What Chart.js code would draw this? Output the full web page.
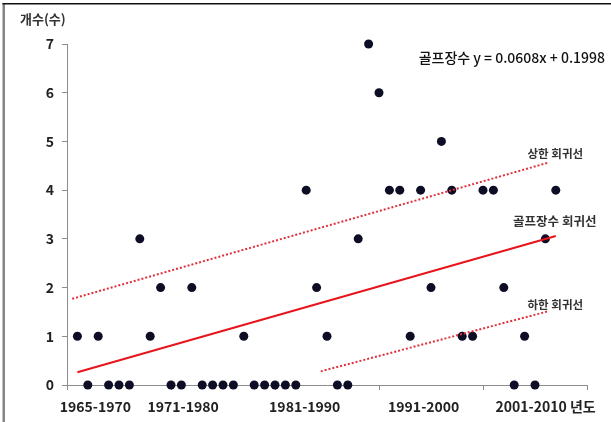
<!DOCTYPE html>
<html>
<head>
<meta charset="utf-8">
<script src="https://cdn.jsdelivr.net/npm/chart.js@4.4.1/dist/chart.umd.min.js"></script>
<style>
  html, body { margin: 0; padding: 0; background: #fff; }
  #wrap { position: relative; width: 611px; height: 422px; }
</style>
</head>
<body>
<div id="wrap"><canvas id="c" width="611" height="422"></canvas></div>
<script>
// Number of golf courses opened per year (sequence 1..47)
const golfCounts = [1,0,1,0,0,0,3,1,2,0,0,2,0,0,0,0,1,0,0,0,0,0,4,2,1,0,0,3,7,6,4,4,1,4,2,5,4,1,1,4,4,2,0,1,0,3,4];
const periodLabels = ['1965-1970', '1971-1980', '1981-1990', '1991-2000', '2001-2010 년도'];
const yTickValues = [0, 1, 2, 3, 4, 5, 6, 7];
// Fitted trend: y = slope * x + intercept
const regSlope = 0.0608;
const regIntercept = 0.1998;
const regRange = [1, 47];
// Upper / lower guide lines (endpoints in data units)
const upperBand = [[0.5, 1.77], [46.2, 4.56]];
const lowerBand = [[24.4, 0.28], [46.2, 1.51]];

const KR = '"Noto Sans CJK KR", "Noto Sans", sans-serif';

// Where the period names sit along the x scale
const periodPos = [2.72, 11.17, 22.86, 34.3, 46.02];

const notes = [
  { text: '골프장수 y = ' + regSlope + 'x + ' + regIntercept, x: 42.77, y: 6.72, font: '500 14px ' + KR, color: '#111' },
  { text: '상한 회귀선', x: 46.95, y: 4.75, font: 'bold 11.5px ' + KR, color: '#333' },
  { text: '골프장수 회귀선', x: 46.9, y: 3.37, font: 'bold 12.5px ' + KR, color: '#333' },
  { text: '하한 회귀선', x: 46.95, y: 1.65, font: 'bold 11.5px ' + KR, color: '#333' }
];

const points = golfCounts.map((v, i) => ({ x: i + 1, y: v }));
const regLine = regRange.map(x => ({ x: x, y: regSlope * x + regIntercept }));
const toXY = arr => arr.map(p => ({ x: p[0], y: p[1] }));

const framePlugin = {
  id: 'frame',
  beforeDraw(chart) {
    const ctx = chart.ctx;
    ctx.save();
    ctx.fillStyle = '#fff';
    ctx.fillRect(0, 0, chart.width, chart.height);
    ctx.restore();
  },
  afterDraw(chart) {
    const ctx = chart.ctx;
    const xs = chart.scales.x, ys = chart.scales.y;
    ctx.save();
    // outer frame: grey left edge, dark top edge
    ctx.fillStyle = '#858585';
    ctx.fillRect(2.5, 3, 2.5, chart.height - 3);
    ctx.fillStyle = '#111';
    ctx.fillRect(2.5, 3, chart.width - 2.5, 1.5);

    // axis title
    ctx.fillStyle = '#333';
    ctx.font = 'bold 13px ' + KR;
    ctx.textAlign = 'left';
    ctx.textBaseline = 'middle';
    ctx.fillText('개수(수)', 20, 19);

    // period names under the x axis
    ctx.fillStyle = '#222';
    ctx.font = 'bold 14px ' + KR;
    ctx.textAlign = 'center';
    periodLabels.forEach((t, i) => {
      ctx.fillText(t, xs.getPixelForValue(periodPos[i]), ys.bottom + 22);
    });

    // annotations
    notes.forEach(n => {
      ctx.font = n.font;
      ctx.fillStyle = n.color;
      ctx.fillText(n.text, xs.getPixelForValue(n.x), ys.getPixelForValue(n.y));
    });
    ctx.restore();
  }
};

new Chart(document.getElementById('c'), {
  type: 'scatter',
  data: {
    datasets: [
      {
        type: 'line', data: regLine, borderColor: '#e8141c', borderWidth: 2,
        pointRadius: 0, fill: false, order: 1
      },
      {
        type: 'line', data: toXY(upperBand), borderColor: '#e0303a', borderWidth: 2,
        borderDash: [2, 2], pointRadius: 0, fill: false, order: 1
      },
      {
        type: 'line', data: toXY(lowerBand), borderColor: '#e0303a', borderWidth: 2,
        borderDash: [2, 2], pointRadius: 0, fill: false, order: 1
      },
      {
        data: points, backgroundColor: '#0d0d26', borderColor: '#0d0d26',
        pointRadius: 4.5, borderWidth: 0, order: 2, clip: false
      }
    ]
  },
  options: {
    responsive: false,
    animation: false,
    layout: { padding: { left: 0, top: 44, right: 24, bottom: 0 } },
    plugins: { legend: { display: false }, tooltip: { enabled: false } },
    scales: {
      x: {
        type: 'linear', min: 0, max: 50,
        afterFit(s) { s.height = 37; },
        ticks: { stepSize: 10, callback: () => '', font: { size: 1 } },
        grid: { drawOnChartArea: false, tickLength: 5, color: '#8c8c8c' },
        border: { color: '#8c8c8c', width: 1 }
      },
      y: {
        min: 0, max: 7,
        afterFit(s) { s.width = 67; },
        afterBuildTicks(s) { s.ticks = yTickValues.map(v => ({ value: v })); },
        ticks: {
          padding: 8, color: '#222',
          font: { family: KR, size: 14, weight: 'bold' },
          callback: v => String(v)
        },
        grid: { drawOnChartArea: false, tickLength: 5, color: '#8c8c8c' },
        border: { color: '#8c8c8c', width: 1 }
      }
    }
  },
  plugins: [framePlugin]
});
</script>
</body>
</html>
